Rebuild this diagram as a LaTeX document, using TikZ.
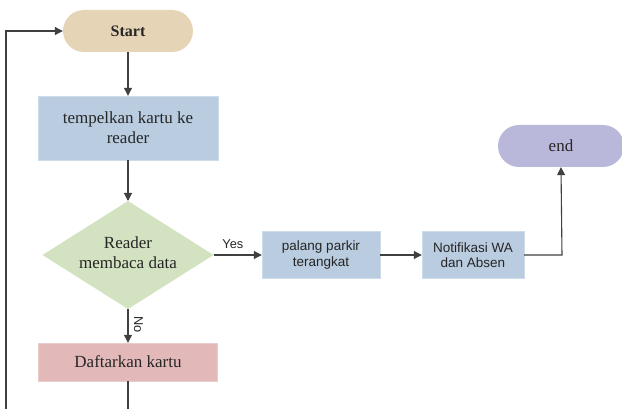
\documentclass[tikz,border=0pt]{standalone}
\usepackage{fontspec}
\setmainfont{Liberation Serif}
\newfontfamily\arialf{Liberation Sans}
\usetikzlibrary{shapes.geometric,arrows.meta}
\definecolor{cstart}{HTML}{E6D4B6}
\definecolor{cblue}{HTML}{B9CCE0}
\definecolor{cgreen}{HTML}{D3E2C0}
\definecolor{cred}{HTML}{E2B8B9}
\definecolor{cend}{HTML}{B9B8DB}
\definecolor{cline}{HTML}{404040}
\begin{document}
\begin{tikzpicture}[x=1pt,y=-1pt,
  serift/.style={font=\fontsize{17}{20}\selectfont, align=center, text=black!85},
  sanst/.style={font=\arialf\fontsize{13.5}{15.5}\selectfont, align=center, text=black!85},
  terminal/.style={rectangle, rounded corners=21pt, minimum height=42pt, inner sep=0pt, serift},
  procbox/.style={rectangle, fill=cblue, draw=cblue!70!white, inner sep=0pt},
  flow/.style={draw=cline, line width=1.1pt, -{Triangle[length=8pt,width=8pt]}},
  smalllab/.style={font=\arialf\fontsize{12.8}{14}\selectfont, text=black!85}
]
\useasboundingbox (0,0) rectangle (622,409);
\clip (0,0) rectangle (622,409);

\node[terminal, fill=cstart, minimum width=130pt, font=\bfseries\fontsize{16}{19}\selectfont] (start) at (128,31) {Start};
\node[procbox, serift, minimum width=180pt, minimum height=64pt] (tempel) at (128,128) {tempelkan kartu ke\\reader};
\node[diamond, aspect=1.58, fill=cgreen, minimum width=171pt, minimum height=108pt, inner sep=0pt, outer sep=0pt, serift] (reader) at (128,255) {\raisebox{6pt}{\begin{tabular}{@{}c@{}}Reader\\membaca data\end{tabular}}};
\node[procbox, sanst, minimum width=118pt, minimum height=47pt] (palang) at (321,255) {palang parkir\\terangkat};
\node[procbox, sanst, minimum width=102pt, minimum height=47pt] (notif) at (473,255) {Notifikasi WA\\dan Absen};
\node[terminal, fill=cend, minimum width=126pt] (end) at (561,146) {end};
\node[rectangle, fill=cred, draw=cred!70!white, serift, minimum width=179pt, minimum height=38pt, inner sep=0pt] (daftar) at (128,362) {Daftarkan kartu};

\coordinate (loopA) at (128,420);
\coordinate (loopB) at (6,420);
\coordinate (loopC) at (6,31);
\coordinate (turn) at (562,255);

\draw[flow] (start) -- (tempel);
\draw[flow] (tempel) -- (reader);
\draw[flow] (reader.east) -- node[above=2pt, smalllab, pos=0.4] {Yes} (palang.west);
\draw[flow] (palang) -- (notif);
\draw[flow] (notif.east) -- (turn) -- (end.south);
\draw[flow] (reader.south) -- node[smalllab, rotate=-90, anchor=south, yshift=2pt, pos=0.45] {No} (daftar.north);
\draw[flow] (daftar.south) -- (loopA) -- (loopB) -- (loopC) -- (start.west);
\end{tikzpicture}
\end{document}
